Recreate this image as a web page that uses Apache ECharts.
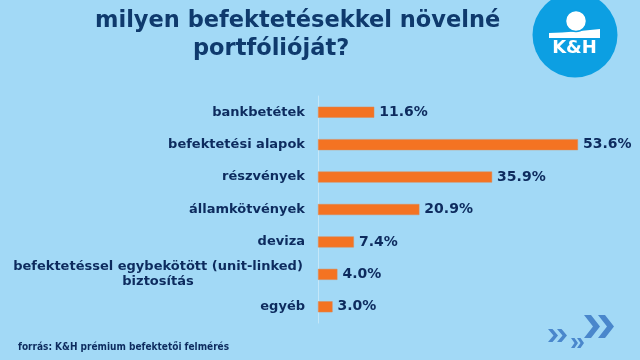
<!DOCTYPE html>
<html><head><meta charset="utf-8">
<script src="https://cdn.jsdelivr.net/npm/echarts@6/dist/echarts.min.js"></script>
<style>html,body{margin:0;padding:0;background:#a2d9f6;}#c{width:640px;height:360px;}</style>
</head><body><div id="c"></div>
<script>
const categories = ['bankbetétek','befektetési alapok','részvények','államkötvények','deviza','befektetéssel egybekötött (unit-linked)\nbiztosítás','egyéb'];
const values = [11.6, 53.6, 35.9, 20.9, 7.4, 4.0, 3.0];
const titleLine1 = 'milyen befektetésekkel növelné';
const titleLine2 = 'portfólióját?';
const sourceText = 'forrás: K&H prémium befektetői felmérés';

const navy = '#0d2b5e';
const chev = '#4a87cc';
function chevron(x0, y0, w, h, t) {
  const ym = y0 + h / 2, y1 = y0 + h;
  return {type: 'polygon', shape: {points: [[x0, y0], [x0 + t, y0], [x0 + w, ym], [x0 + t, y1], [x0, y1], [x0 + w - t, ym]]}, style: {fill: chev}};
}
const chart = echarts.init(document.getElementById('c'));
chart.setOption({
  backgroundColor: '#a2d9f6',
  animation: false,
  title: [
    {text: titleLine1, left: 90, top: 5, textStyle: {fontFamily: 'DejaVu Sans', fontWeight: 'bold', fontSize: 22.5, color: '#0f3a6d'}},
    {text: titleLine2, left: 188, top: 33, textStyle: {fontFamily: 'DejaVu Sans', fontWeight: 'bold', fontSize: 22.5, color: '#0f3a6d'}}
  ],
  grid: {left: 318, top: 96, height: 227, width: 291, containLabel: false},
  xAxis: {type: 'value', min: 0, max: 60, show: false},
  yAxis: {
    type: 'category', data: categories, inverse: true,
    axisLine: {show: true, lineStyle: {color: '#c4e7f9', width: 1}},
    axisTick: {show: false},
    axisLabel: {
      margin: 13,
      fontFamily: 'DejaVu Sans', fontWeight: 'bold', fontSize: 13, color: navy,
      formatter: function (v) {
        if (v.indexOf('\n') >= 0) {
          return v.split('\n').map(s => '{c|' + s + '}').join('\n');
        }
        return v;
      },
      rich: {c: {width: 294, align: 'center', fontFamily: 'DejaVu Sans', fontWeight: 'bold', fontSize: 13, color: navy, lineHeight: 15}}
    }
  },
  series: [{
    type: 'bar', data: values, barWidth: 11,
    itemStyle: {color: '#f47322', borderColor: '#d98a5a', borderWidth: 0.5},
    label: {show: true, position: 'right', distance: 5, formatter: p => p.value.toFixed(1) + '%',
      fontFamily: 'DejaVu Sans', fontWeight: 'bold', fontSize: 14, color: navy}
  }],
  graphic: [
    {type: 'text', left: 18, top: 342, style: {text: sourceText, font: 'bold 10px "Liberation Sans Narrow", "DejaVu Sans Condensed", sans-serif', fill: navy}},
    {type: 'circle', shape: {cx: 575, cy: 35, r: 42.5}, style: {fill: '#0c9fe2'}},
    {type: 'polygon', shape: {points: [[549,33],[562,32.5],[575,31.5],[600,29],[600,38],[549,38]]}, style: {fill: '#ffffff'}},
    {type: 'circle', shape: {cx: 576, cy: 21, r: 10.5}, style: {fill: '#ffffff', stroke: '#0c9fe2', lineWidth: 1.5}},
    {type: 'text', x: 574.5, y: 48, style: {text: 'K&H', font: 'bold 18px "DejaVu Sans"', fill: '#ffffff', align: 'center', verticalAlign: 'middle'}},
    chevron(584, 315, 16, 23, 7),
    chevron(598, 315, 16, 23, 7),
    chevron(548, 329, 10, 13, 4.5),
    chevron(557, 329, 10, 13, 4.5),
    chevron(571, 338, 7, 10, 3.5),
    chevron(577, 338, 7, 10, 3.5)
  ]
});
</script></body></html>
